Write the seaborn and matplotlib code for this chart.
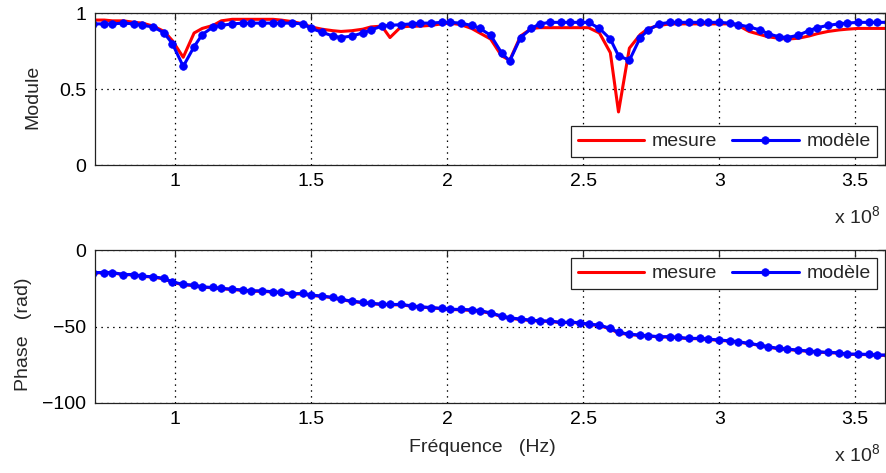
import matplotlib
matplotlib.use("Agg")
import matplotlib.pyplot as plt
import numpy as np
import seaborn as sns
from matplotlib.ticker import FuncFormatter

# frequency sweep (x 1e8 Hz)
freq = np.array([
    0.70, 0.74, 0.77, 0.81, 0.85, 0.88, 0.92, 0.96, 0.99, 1.03,
    1.07, 1.10, 1.14, 1.17, 1.21, 1.25, 1.28, 1.32, 1.36, 1.39,
    1.43, 1.47, 1.50, 1.54, 1.58, 1.61, 1.65, 1.69, 1.72, 1.76,
    1.79, 1.83, 1.87, 1.90, 1.94, 1.98, 2.01, 2.05, 2.09, 2.12,
    2.16, 2.20, 2.23, 2.27, 2.31, 2.34, 2.38, 2.42, 2.45, 2.49,
    2.52, 2.56, 2.60, 2.63, 2.67, 2.71, 2.74, 2.78, 2.82, 2.85,
    2.89, 2.93, 2.96, 3.00, 3.04, 3.07, 3.11, 3.15, 3.18, 3.22,
    3.25, 3.29, 3.33, 3.36, 3.40, 3.44, 3.47, 3.51, 3.55, 3.58,
    3.62]) * 1e8

module_mesure = [
    0.955, 0.955, 0.95, 0.95, 0.94, 0.935, 0.915, 0.88, 0.82, 0.71,
    0.87, 0.90, 0.92, 0.95, 0.96, 0.96, 0.96, 0.96, 0.96, 0.955,
    0.945, 0.93, 0.91, 0.895, 0.885, 0.88, 0.885, 0.895, 0.91, 0.915,
    0.84, 0.91, 0.915, 0.915, 0.92, 0.93, 0.935, 0.925, 0.90, 0.87,
    0.83, 0.72, 0.69, 0.85, 0.90, 0.905, 0.905, 0.905, 0.905, 0.905,
    0.905, 0.87, 0.74, 0.35, 0.77, 0.86, 0.90, 0.92, 0.93, 0.93,
    0.93, 0.93, 0.93, 0.93, 0.93, 0.92, 0.88, 0.86, 0.845, 0.835,
    0.83, 0.835, 0.85, 0.865, 0.88, 0.89, 0.895, 0.90, 0.90, 0.90,
    0.90]

module_modele = [
    0.93, 0.93, 0.93, 0.935, 0.93, 0.92, 0.91, 0.87, 0.80, 0.65,
    0.78, 0.86, 0.91, 0.92, 0.93, 0.935, 0.935, 0.935, 0.935, 0.935,
    0.935, 0.93, 0.90, 0.875, 0.85, 0.84, 0.85, 0.87, 0.89, 0.915,
    0.92, 0.925, 0.93, 0.935, 0.935, 0.94, 0.94, 0.935, 0.92, 0.90,
    0.855, 0.74, 0.685, 0.84, 0.90, 0.93, 0.94, 0.94, 0.94, 0.94,
    0.94, 0.90, 0.83, 0.72, 0.69, 0.84, 0.89, 0.93, 0.94, 0.94,
    0.94, 0.94, 0.94, 0.94, 0.935, 0.925, 0.91, 0.89, 0.865, 0.845,
    0.84, 0.855, 0.885, 0.905, 0.92, 0.93, 0.935, 0.94, 0.94, 0.94,
    0.94]

phase_mesure = [
    -14.8, -14.8, -14.8, -16.0, -16.1, -17.1, -17.6, -18.8, -21.0, -22.6,
    -23.1, -24.2, -24.6, -25.2, -25.7, -26.3, -26.8, -26.9, -27.4, -27.8,
    -28.7, -28.6, -29.6, -30.2, -31.1, -32.4, -33.5, -34.4, -35.0, -35.5,
    -35.7, -35.8, -36.6, -37.2, -37.7, -38.3, -38.8, -39.0, -39.4, -39.9,
    -41.3, -43.4, -44.5, -45.4, -46.0, -46.4, -46.6, -47.5, -47.2, -47.7,
    -48.6, -49.3, -51.6, -54.2, -55.2, -55.8, -56.2, -56.8, -56.8, -57.3,
    -57.9, -57.9, -58.4, -59.0, -59.5, -60.1, -61.2, -62.3, -63.5, -64.5,
    -64.9, -65.6, -66.2, -66.6, -67.1, -67.3, -68.2, -68.2, -68.4, -68.8,
    -68.8]

phase_modele = [
    -14.6, -14.6, -14.6, -15.9, -15.9, -17.0, -17.4, -18.5, -20.7, -22.4,
    -22.9, -24.0, -24.4, -25.0, -25.5, -26.1, -26.6, -26.6, -27.2, -27.6,
    -28.5, -28.3, -29.4, -30.0, -30.9, -32.2, -33.3, -34.2, -34.8, -35.3,
    -35.5, -35.5, -36.4, -37.0, -37.5, -38.1, -38.6, -38.8, -39.0, -39.6,
    -41.0, -43.1, -44.2, -45.1, -45.8, -46.2, -46.4, -47.3, -47.0, -47.5,
    -48.4, -49.0, -51.2, -53.8, -54.9, -55.6, -56.0, -56.6, -56.6, -57.1,
    -57.7, -57.7, -58.2, -58.8, -59.3, -59.9, -61.0, -62.1, -63.2, -64.3,
    -64.7, -65.4, -66.0, -66.4, -66.9, -67.1, -68.0, -68.0, -68.2, -68.6,
    -68.6]

sns.set_style("white")
plt.rcParams['font.family'] = ['Liberation Sans', 'DejaVu Sans']
plt.rcParams['font.size'] = 14
plt.rcParams['mathtext.fontset'] = 'custom'
plt.rcParams['mathtext.rm'] = 'Liberation Sans'

fig = plt.figure(figsize=(8.86, 4.73), dpi=100)
ax1 = fig.add_axes([0.107, 0.651, 0.892, 0.321])
ax2 = fig.add_axes([0.107, 0.148, 0.892, 0.323])


def draw(ax, y_mes, y_mod):
    sns.lineplot(x=freq, y=y_mes, ax=ax, color='red', linewidth=2.2, label='mesure')
    sns.lineplot(x=freq, y=y_mod, ax=ax, color='blue', linewidth=2.2, marker='o',
                 markersize=5.5, markeredgecolor='blue', markeredgewidth=0.5,
                 label='modèle')


def style(ax, ylim, yticks, legend_loc):
    ax.set_xlim(0.705e8, 3.61e8)
    ax.set_ylim(*ylim)
    ax.set_xticks([1e8, 1.5e8, 2e8, 2.5e8, 3e8, 3.5e8])
    ax.xaxis.set_major_formatter(FuncFormatter(lambda v, p: f"{v / 1e8:g}"))
    ax.set_yticks(yticks)
    ax.yaxis.set_major_formatter(FuncFormatter(lambda v, p: f"{v:g}".replace('-', '\u2212')))
    ax.grid(True, color='black', linestyle=(0, (1.2, 3.5)), linewidth=0.9)
    for s in ax.spines.values():
        s.set_color('#222222')
        s.set_linewidth(0.9)
    ax.tick_params(direction='in', top=True, right=True, length=5, width=0.9,
                   colors='#222222', labelcolor='black', pad=6)
    leg = ax.legend(loc=legend_loc, ncol=2, fancybox=False, framealpha=1,
                    edgecolor='#222222', handlelength=3.4, handletextpad=0.4,
                    columnspacing=0.8, borderpad=0.35, borderaxespad=0.4,
                    numpoints=1)
    leg.get_frame().set_linewidth(0.9)
    ax.text(0.994, -0.34, r'x 10$^\mathregular{8}$', transform=ax.transAxes,
            ha='right', va='center')


draw(ax1, module_mesure, module_modele)
style(ax1, (0, 1), [0, 0.5, 1], 'lower right')
ax1.set_ylabel('Module')
ax1.yaxis.set_label_coords(-0.067, 0.45)

draw(ax2, phase_mesure, phase_modele)
style(ax2, (-100, 0), [-100, -50, 0], 'upper right')
ax2.set_ylabel('Phase   (rad)')
ax2.yaxis.set_label_coords(-0.080, 0.45)
ax2.set_xlabel('Fréquence   (Hz)')
ax2.xaxis.set_label_coords(0.491, -0.235)

fig.savefig('out.png', dpi=100)
